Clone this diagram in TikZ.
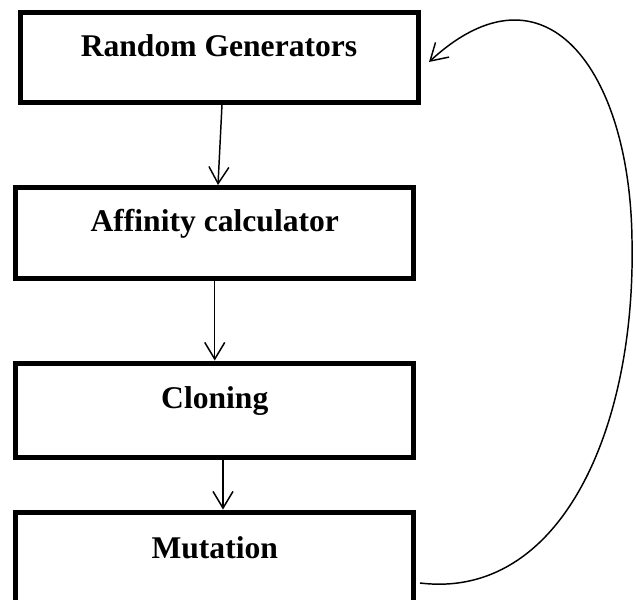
\documentclass[tikz,border=0pt]{standalone}
\usepackage{fontspec}
\setmainfont{Liberation Serif}
\usetikzlibrary{arrows.meta,calc}
\begin{document}
\begin{tikzpicture}[x=0.75pt,y=-0.75pt,
  stagebox/.style={draw, line width=3.75pt, inner sep=0pt, minimum width=298.5pt,
    anchor=base, font=\fontsize{23.7}{28}\selectfont\bfseries},
  flow/.style={line width=1.1pt, -{Straight Barb[length=12.5pt,width=15pt,line width=1.1pt]}}]
\useasboundingbox (0,0) rectangle (636,600);
\clip (0,0) rectangle (636,600);
\node[stagebox, text height=33pt, text depth=34.5pt] (rg) at (219,56) {Random Generators};
\node[stagebox, text height=33pt, text depth=34.9pt] (ac) at (214.75,231.5) {Affinity calculator};
\node[stagebox, text height=33.75pt, text depth=36.75pt] (cl) at (214.75,408) {Cloning};
\node[stagebox, text height=34.5pt, text depth=36pt] (mu) at (214.75,558) {Mutation};
\draw[flow] ($(rg.south)+(3,0)$) -- ($(ac.north)+(3.25,0)$);
\draw[flow] (ac.south) -- (cl.north);
\draw[flow] ($(cl.south)+(8.25,0)$) -- ($(mu.north)+(8.25,0)$);
\coordinate (loopstart) at ($(mu.east)+(3.75,24)$);
\coordinate (loopmid) at (632,240);
\coordinate (loopend) at ($(rg.east)+(8.5,5)$);
\draw[flow] (loopstart) .. controls (560,600) and (636,430) .. (loopmid)
  .. controls (630,70) and (545,-45) .. (loopend);
\end{tikzpicture}
\end{document}
